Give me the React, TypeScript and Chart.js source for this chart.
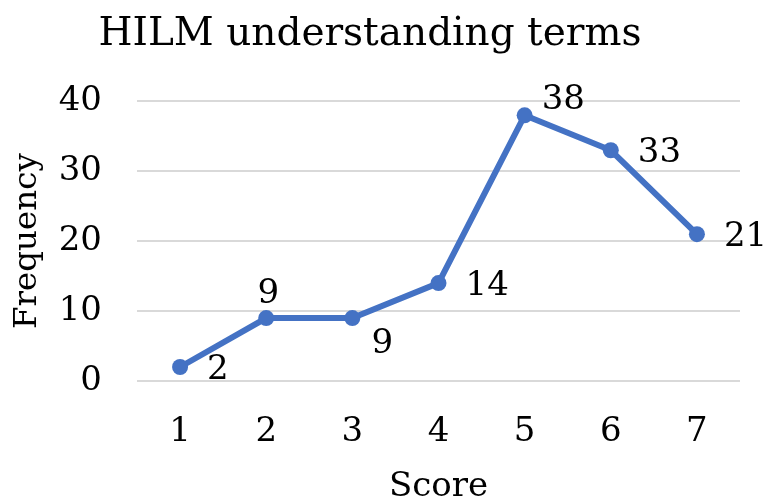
import { useEffect, useRef } from "react";
import { Chart, registerables } from "chart.js";

Chart.register(...registerables);

const chartTitle = "HILM understanding terms";
const xTitle = "Score";
const yTitle = "Frequency";
const scores = ["1", "2", "3", "4", "5", "6", "7"];
const frequency = [2, 9, 9, 14, 38, 33, 21];
const yTicks = [0, 10, 20, 30, 40];

const FONT = "'DejaVu Serif', 'Liberation Serif', serif";
const BLUE = "#4472C4";

type Placement = "right" | "above" | "belowRight" | "aboveRight";
const placements: Placement[] = ["right", "above", "belowRight", "right", "aboveRight", "right", "right"];

const pointLabelPlugin = {
  id: "pointLabels",
  afterDatasetsDraw(chart: any) {
    const ctx = chart.ctx as CanvasRenderingContext2D;
    const meta = chart.getDatasetMeta(0);
    const values = chart.data.datasets[0].data as number[];
    ctx.save();
    ctx.font = `34px ${FONT}`;
    ctx.fillStyle = "#000000";
    meta.data.forEach((pt: any, i: number) => {
      const { x, y } = pt.getProps(["x", "y"], true);
      const text = String(values[i]);
      const place = placements[i];
      if (place === "right") {
        ctx.textAlign = "left";
        ctx.textBaseline = "middle";
        ctx.fillText(text, x + 27, y + 3);
      } else if (place === "above") {
        ctx.textAlign = "center";
        ctx.textBaseline = "alphabetic";
        ctx.fillText(text, x + 2, y - 15);
      } else if (place === "belowRight") {
        ctx.textAlign = "center";
        ctx.textBaseline = "middle";
        ctx.fillText(text, x + 30, y + 26);
      } else {
        ctx.textAlign = "left";
        ctx.textBaseline = "middle";
        ctx.fillText(text, x + 17, y - 15);
      }
    });
    ctx.restore();
  },
};

export default function App() {
  const ref = useRef<HTMLCanvasElement | null>(null);

  useEffect(() => {
    if (!ref.current) return;
    const chart = new Chart(ref.current, {
      type: "line",
      data: {
        labels: scores,
        datasets: [
          {
            data: frequency,
            borderColor: BLUE,
            backgroundColor: BLUE,
            borderWidth: 6,
            pointRadius: 8,
            pointBackgroundColor: BLUE,
            pointBorderWidth: 0,
            tension: 0,
          },
        ],
      },
      options: {
        animation: false,
        responsive: false,
        layout: { padding: { left: 0, right: 25, top: 0, bottom: 0 } },
        plugins: {
          legend: { display: false },
          tooltip: { enabled: false },
          title: {
            display: true,
            text: chartTitle,
            color: "#000000",
            font: { family: FONT, size: 39, weight: "normal", lineHeight: 1.2 },
            padding: { top: 11.5, bottom: 43 },
          },
        },
        scales: {
          x: {
            type: "category",
            offset: true,
            grid: { display: false, drawTicks: false },
            border: { display: false },
            ticks: {
              color: "#000000",
              padding: 31,
              font: { family: FONT, size: 34, lineHeight: 1.2 },
            },
            title: {
              display: true,
              text: xTitle,
              color: "#000000",
              font: { family: FONT, size: 34, lineHeight: 0.7 },
              padding: { top: 0, bottom: 0 },
            },
            afterFit: (scale: any) => {
              scale.height = 118;
            },
          },
          y: {
            min: yTicks[0],
            max: yTicks[yTicks.length - 1],
            ticks: {
              stepSize: yTicks[1] - yTicks[0],
              color: "#000000",
              padding: 35,
              font: { family: FONT, size: 34, lineHeight: 1.2 },
            },
            grid: { color: "#d9d9d9", lineWidth: 2, drawTicks: false },
            border: { display: false },
            title: {
              display: true,
              text: yTitle,
              color: "#000000",
              font: { family: FONT, size: 32.5, lineHeight: 1.2 },
              padding: { top: 8, bottom: 0 },
            },
            afterFit: (scale: any) => {
              scale.width = 137;
            },
          },
        },
      },
      plugins: [pointLabelPlugin],
    });
    return () => chart.destroy();
  }, []);

  return (
    <div style={{ position: "absolute", left: 0, top: 0, width: 765, height: 499, background: "#ffffff" }}>
      <canvas ref={ref} width={765} height={499} style={{ display: "block" }} />
    </div>
  );
}
